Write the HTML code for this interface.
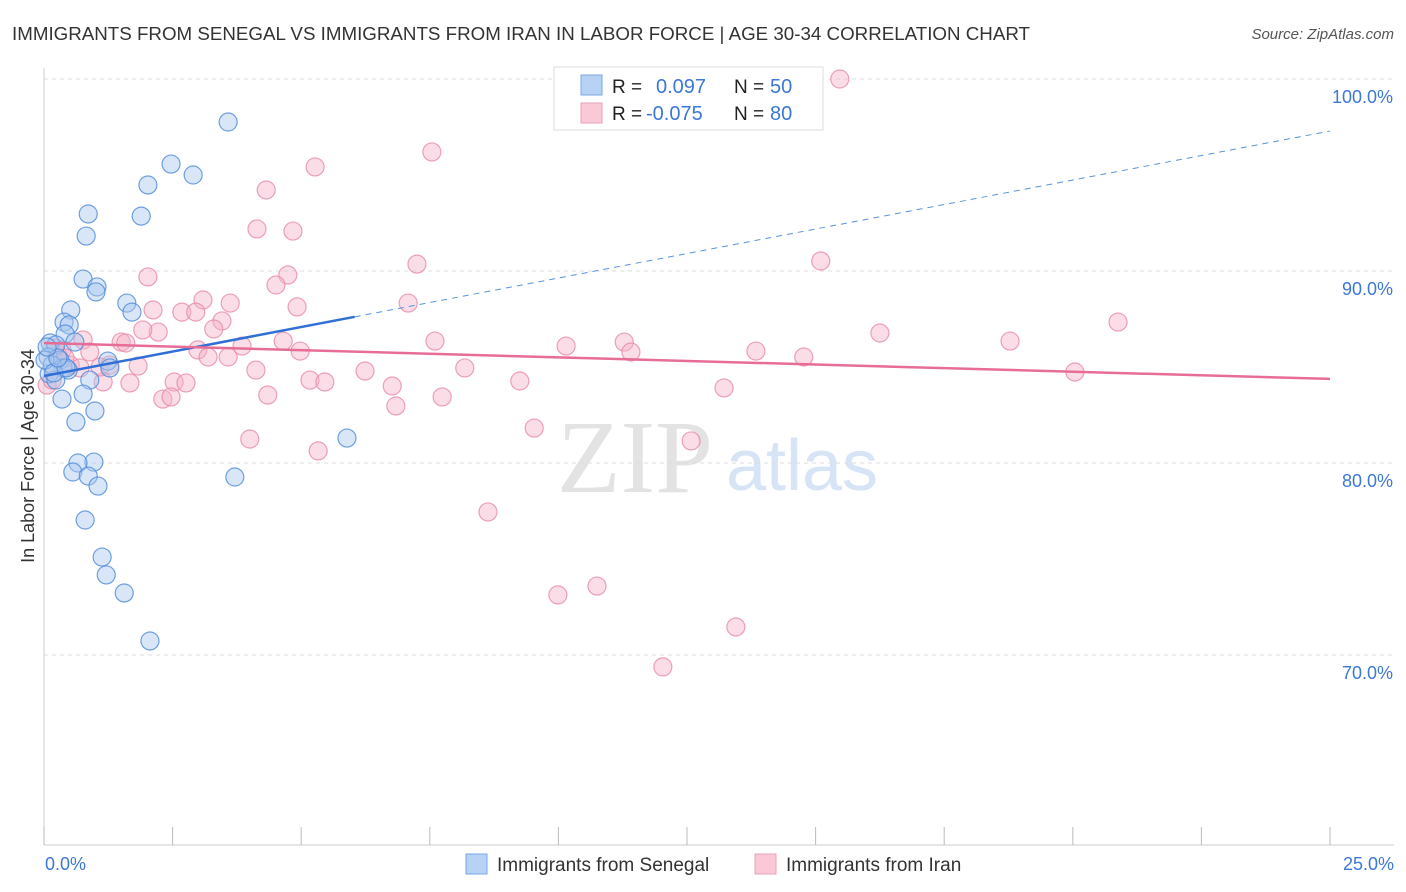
<!DOCTYPE html>
<html><head><meta charset="utf-8"><style>
body{margin:0;background:#fff;font-family:"Liberation Sans",sans-serif}
svg{display:block}
</style></head><body>
<svg id="chart" width="1406" height="892">
<text x="12" y="40" font-size="18" fill="#333" textLength="1018" lengthAdjust="spacingAndGlyphs">IMMIGRANTS FROM SENEGAL VS IMMIGRANTS FROM IRAN IN LABOR FORCE | AGE 30-34 CORRELATION CHART</text>
<text x="1394" y="39" font-size="15" fill="#555" font-style="italic" text-anchor="end">Source: ZipAtlas.com</text>
<text x="635" y="492" font-size="104" fill="#e3e3e3" font-family="Liberation Serif,serif" text-anchor="middle">ZIP</text>
<text x="802" y="490" font-size="72" fill="#d6e4f5" text-anchor="middle">atlas</text>
<text transform="translate(34,456) rotate(-90)" font-size="18" fill="#333" text-anchor="middle">In Labor Force | Age 30-34</text>
<g id="grid"></g><g id="marks"></g>
<g>
<rect x="554" y="67" width="269" height="63" fill="#fff" stroke="#ddd"/>
<rect x="581" y="75" width="21" height="20" fill="#b7d2f5" stroke="#7aa7e3"/>
<rect x="581" y="103" width="21" height="20" fill="#f9c9d8" stroke="#eba0b8"/>
<text x="612" y="93" font-size="19" fill="#222">R =</text><text x="656" y="93" font-size="20" fill="#3b78d8">0.097</text>
<text x="734" y="93" font-size="19" fill="#222">N =</text><text x="770" y="93" font-size="20" fill="#3b78d8">50</text>
<text x="612" y="120" font-size="19" fill="#222">R =</text><text x="646" y="120" font-size="20" fill="#3b78d8">-0.075</text>
<text x="734" y="120" font-size="19" fill="#222">N =</text><text x="770" y="120" font-size="20" fill="#3b78d8">80</text>
</g>
<g>
<rect x="466" y="854" width="21" height="20" fill="#b7d2f5" stroke="#7aa7e3"/>
<text x="497" y="871" font-size="19" fill="#333">Immigrants from Senegal</text>
<rect x="755" y="854" width="21" height="20" fill="#f9c9d8" stroke="#eba0b8"/>
<text x="786" y="871" font-size="19" fill="#333">Immigrants from Iran</text>
</g>
</svg>
<script>
const xTicks=[0,2.5,5,7.5,10,12.5,15,17.5,20,22.5,25];
const yTicks=[100,90,80,70];
const yTickLabels=["100.0%","90.0%","80.0%","70.0%"];
const xEndLabels=["0.0%","25.0%"];
const senegalX=[3.58,2.47,2.02,2.90,0.86,1.89,0.82,0.76,1.03,1.01,1.61,1.71,0.52,0.39,0.49,0.41,0.12,0.23,0.60,0.08,0.31,1.24,1.28,0.37,0.47,0.10,0.23,0.89,0.76,0.35,0.99,0.62,5.89,0.97,0.66,0.56,0.86,1.05,3.71,0.80,1.13,1.21,1.56,2.06,0.16,0.02,0.19,0.43,0.27,0.06];
const senegalY=[97.76,95.57,94.48,95.0,92.97,92.86,91.82,89.58,89.17,88.91,88.33,87.86,87.97,87.34,87.19,86.72,86.25,86.15,86.30,85.52,85.36,85.31,84.95,84.95,84.84,84.64,84.32,84.32,83.59,83.33,82.71,82.14,81.30,80.05,80.0,79.53,79.32,78.80,79.27,77.03,75.10,74.17,73.23,70.73,85.10,85.36,84.69,84.95,85.47,86.04];
const iranX=[15.47,11.06,7.54,5.27,4.32,4.14,4.84,7.25,15.10,2.02,4.74,4.51,3.09,3.62,7.08,2.12,2.68,2.95,4.92,3.46,3.30,2.22,1.92,16.25,20.88,18.78,7.60,10.15,11.28,11.41,13.84,14.77,4.65,4.98,3.85,2.99,3.58,3.19,1.50,1.59,0.76,0.89,1.83,4.12,6.24,8.18,9.25,5.17,5.46,6.77,13.22,2.53,2.76,1.15,1.67,4.35,2.31,2.47,7.74,6.84,20.04,4.00,5.33,9.53,12.58,8.63,9.99,10.75,13.45,12.03,0.06,0.16,0.27,0.35,0.51,0.70,0.41,0.21,1.09,1.28];
const iranY=[100.0,100.0,96.20,95.42,94.22,92.19,92.08,90.36,90.52,89.69,89.79,89.27,88.49,88.33,88.33,87.97,87.86,87.86,88.13,87.40,86.98,86.82,86.93,86.77,87.34,86.35,86.35,86.09,86.30,85.78,85.83,85.52,86.35,85.83,86.09,85.89,85.52,85.52,86.30,86.25,86.41,85.78,85.05,84.84,84.79,84.95,84.27,84.32,84.22,84.01,83.91,84.22,84.17,84.22,84.17,83.54,83.33,83.44,83.44,82.97,84.74,81.25,80.63,81.82,81.15,77.45,73.13,73.59,71.46,69.38,84.06,84.32,85.63,85.89,85.10,84.95,85.47,85.99,85.0,85.10];
const senegalTrend=[84.53,97.29]; const senegalSolidEnd=6.04;
const iranTrend=[86.25,84.38];
const X=v=>44+v/25*1286, Y=v=>79+(100-v)*19.2;
const NS="http://www.w3.org/2000/svg";
const grid=document.getElementById('grid'), marks=document.getElementById('marks');
function mk(p,tag,a){const e=document.createElementNS(NS,tag);for(const k in a)e.setAttribute(k,a[k]);p.appendChild(e);return e;}
yTicks.forEach((t,i)=>{
 const l=mk(grid,'line',{x1:44,x2:1394,y1:Y(t),y2:Y(t),stroke:'#ddd','stroke-dasharray':'4,4'});
 
 
 const tx=mk(grid,'text',{x:1393,y:Y(t)+24,'font-size':18,fill:'#3b78d8','text-anchor':'end'});tx.textContent=yTickLabels[i];
 
 
});
mk(grid,'line',{x1:44,x2:44,y1:68,y2:845,stroke:'#ccc'});
mk(grid,'line',{x1:44,x2:1394,y1:845,y2:845,stroke:'#ccc'});
xTicks.forEach(t=>{const l=mk(grid,'line',{x1:X(t),x2:X(t),y1:827,y2:845,stroke:'#bbb'});
 
 });
[[0,'start',45],[25,'end',1394]].forEach((d,i)=>{const t=mk(grid,'text',{x:d[2],y:870,'font-size':18,fill:'#3b78d8','text-anchor':d[1]});t.textContent=xEndLabels[i];
 
 });
function pts(xs,ys,fill,stroke,name){xs.forEach((x,i)=>{const c=mk(marks,'circle',{cx:X(x),cy:Y(ys[i]),r:9,fill:fill,'fill-opacity':0.45,stroke:stroke,'stroke-opacity':0.8,'stroke-width':1.2});
 
 });}
pts(iranX,iranY,'#f5b3c8','#e98aaa','iran-point');
pts(senegalX,senegalY,'#a8c8f0','#4f8ad8','senegal-point');
const bs=senegalTrend[0],bsl=(senegalTrend[1]-senegalTrend[0])/25;
let l1=mk(marks,'line',{x1:X(0),y1:Y(bs),x2:X(senegalSolidEnd),y2:Y(bs+bsl*senegalSolidEnd),stroke:'#2f6fd6','stroke-width':2.5});


let l2=mk(marks,'line',{x1:X(senegalSolidEnd),y1:Y(bs+bsl*senegalSolidEnd),x2:X(25),y2:Y(senegalTrend[1]),stroke:'#5b93dd','stroke-width':1,'stroke-dasharray':'6,5'});


let l3=mk(marks,'line',{x1:X(0),y1:Y(iranTrend[0]),x2:X(25),y2:Y(iranTrend[1]),stroke:'#e76d96','stroke-width':2.5});


</script>
</body></html>
